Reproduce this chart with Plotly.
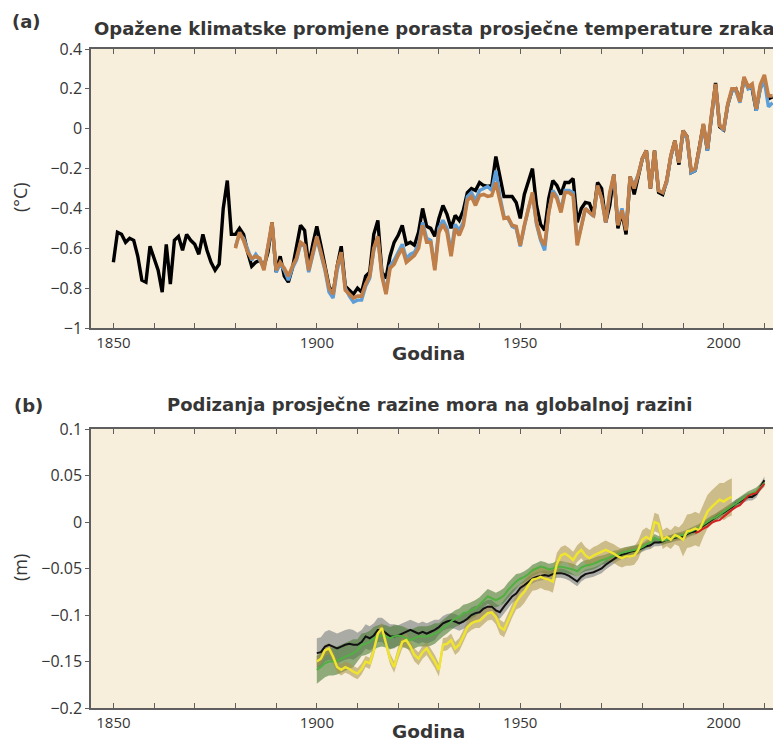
import numpy as np
import plotly.graph_objects as go

# ---------------- Panel (a): temperature anomalies (°C) ----------------
years_black_a = list(range(1850, 2013))
temp_black = [
    -0.67, -0.52, -0.53, -0.57, -0.55, -0.56, -0.64, -0.76, -0.77, -0.59,
    -0.65, -0.71, -0.82, -0.58, -0.78, -0.56, -0.54, -0.61, -0.53, -0.56,
    -0.58, -0.63, -0.53, -0.61, -0.67, -0.71, -0.68, -0.40, -0.26, -0.53,
    -0.53, -0.50, -0.53, -0.62, -0.69, -0.67, -0.66, -0.69, -0.62, -0.47,
    -0.72, -0.64, -0.74, -0.77, -0.70, -0.60, -0.485, -0.51, -0.69, -0.58,
    -0.49, -0.585, -0.68, -0.79, -0.83, -0.69, -0.59, -0.79, -0.81, -0.83,
    -0.80, -0.82, -0.74, -0.72, -0.53, -0.46, -0.72, -0.75, -0.64, -0.57,
    -0.535, -0.485, -0.58, -0.57, -0.585, -0.52, -0.40, -0.49, -0.50, -0.54,
    -0.45, -0.385, -0.43, -0.50, -0.435, -0.46, -0.41, -0.32, -0.30, -0.31,
    -0.27, -0.285, -0.29, -0.285, -0.14, -0.24, -0.34, -0.34, -0.34, -0.37,
    -0.45, -0.33, -0.26, -0.20, -0.385, -0.48, -0.51, -0.35, -0.26, -0.285,
    -0.33, -0.27, -0.27, -0.25, -0.47, -0.40, -0.37, -0.375, -0.43, -0.27,
    -0.30, -0.47, -0.385, -0.23, -0.50, -0.42, -0.53, -0.24, -0.33, -0.23,
    -0.15, -0.11, -0.30, -0.11, -0.32, -0.33, -0.26, -0.14, -0.06, -0.18,
    -0.01, -0.04, -0.22, -0.21, -0.10, 0.02, -0.11, 0.07, 0.23, 0.01,
    -0.005, 0.12, 0.19, 0.20, 0.14, 0.25, 0.21, 0.20, 0.09, 0.21,
    0.25, 0.15, 0.16,
]

years_color_a = list(range(1880, 2013))
temp_blue = [
    -0.59, -0.53, -0.55, -0.61, -0.66, -0.63, -0.66, -0.70, -0.60, -0.48,
    -0.72, -0.68, -0.71, -0.76, -0.70, -0.66, -0.58, -0.59, -0.72, -0.63,
    -0.55, -0.63, -0.71, -0.82, -0.85, -0.71, -0.63, -0.80, -0.84, -0.87,
    -0.86, -0.86, -0.79, -0.75, -0.61, -0.55, -0.73, -0.82, -0.69, -0.66,
    -0.62, -0.58, -0.65, -0.63, -0.62, -0.58, -0.47, -0.55, -0.56, -0.70,
    -0.50, -0.46, -0.50, -0.62, -0.48, -0.51, -0.47, -0.34, -0.32, -0.36,
    -0.31, -0.30, -0.29, -0.31, -0.21, -0.34, -0.44, -0.45, -0.49, -0.50,
    -0.59, -0.49, -0.40, -0.33, -0.48, -0.56, -0.61, -0.42, -0.31, -0.34,
    -0.41, -0.31, -0.31, -0.32, -0.57, -0.49, -0.40, -0.42, -0.44, -0.29,
    -0.35, -0.47, -0.33, -0.23, -0.48, -0.40, -0.50, -0.25, -0.28, -0.23,
    -0.15, -0.12, -0.29, -0.12, -0.31, -0.32, -0.27, -0.14, -0.07, -0.17,
    -0.02, -0.05, -0.22, -0.21, -0.11, 0.02, -0.11, 0.06, 0.21, 0.02,
    -0.01, 0.12, 0.19, 0.19, 0.13, 0.25, 0.20, 0.21, 0.09, 0.20,
    0.24, 0.11, 0.13,
]
temp_orange = [
    -0.60, -0.52, -0.56, -0.62, -0.65, -0.64, -0.65, -0.71, -0.59, -0.47,
    -0.71, -0.67, -0.70, -0.74, -0.69, -0.65, -0.57, -0.585, -0.71, -0.62,
    -0.54, -0.62, -0.70, -0.80, -0.83, -0.69, -0.62, -0.81, -0.83, -0.85,
    -0.84, -0.84, -0.78, -0.74, -0.60, -0.54, -0.74, -0.83, -0.70, -0.68,
    -0.635, -0.60, -0.67, -0.65, -0.635, -0.60, -0.485, -0.57, -0.57, -0.71,
    -0.52, -0.48, -0.52, -0.64, -0.50, -0.535, -0.485, -0.36, -0.34, -0.385,
    -0.335, -0.33, -0.34, -0.335, -0.27, -0.36, -0.45, -0.445, -0.485, -0.49,
    -0.585, -0.485, -0.40, -0.32, -0.47, -0.55, -0.585, -0.42, -0.32, -0.35,
    -0.42, -0.32, -0.32, -0.335, -0.585, -0.50, -0.40, -0.42, -0.435, -0.285,
    -0.35, -0.47, -0.32, -0.23, -0.485, -0.41, -0.51, -0.24, -0.30, -0.23,
    -0.15, -0.11, -0.30, -0.11, -0.31, -0.32, -0.26, -0.135, -0.06, -0.17,
    -0.01, -0.04, -0.21, -0.20, -0.10, 0.025, -0.10, 0.07, 0.225, 0.015,
    0.0, 0.125, 0.20, 0.20, 0.135, 0.26, 0.21, 0.225, 0.10, 0.22,
    0.27, 0.165, 0.165,
]

# ---------------- Panel (b): global mean sea level (m) ----------------
years_b = list(range(1900, 2011))
sea_black = [
    -0.141, -0.140, -0.134, -0.132, -0.134, -0.136, -0.134, -0.132, -0.131, -0.132,
    -0.132, -0.129, -0.123, -0.125, -0.122, -0.116, -0.116, -0.120, -0.123, -0.123,
    -0.122, -0.120, -0.118, -0.116, -0.118, -0.120, -0.118, -0.120, -0.118, -0.116,
    -0.113, -0.109, -0.107, -0.106, -0.107, -0.109, -0.107, -0.104, -0.100, -0.098,
    -0.097, -0.093, -0.091, -0.091, -0.095, -0.097, -0.091, -0.086, -0.080, -0.077,
    -0.071, -0.068, -0.064, -0.061, -0.059, -0.058, -0.057, -0.058, -0.056, -0.055,
    -0.055, -0.056, -0.058, -0.061, -0.064, -0.059, -0.056, -0.055, -0.054, -0.052,
    -0.050, -0.046, -0.043, -0.040, -0.037, -0.035, -0.034, -0.032, -0.031, -0.030,
    -0.028, -0.026, -0.025, -0.022, -0.022, -0.021, -0.019, -0.018, -0.017, -0.016,
    -0.016, -0.013, -0.011, -0.010, -0.007, -0.004, -0.001, 0.002, 0.005, 0.008,
    0.010, 0.013, 0.016, 0.020, 0.022, 0.025, 0.027, 0.027, 0.030, 0.037,
    0.045,
]
sea_green = [
    -0.159, -0.156, -0.152, -0.150, -0.150, -0.149, -0.147, -0.145, -0.143, -0.141,
    -0.138, -0.132, -0.131, -0.129, -0.125, -0.123, -0.122, -0.123, -0.125, -0.123,
    -0.122, -0.123, -0.125, -0.127, -0.125, -0.123, -0.123, -0.123, -0.122, -0.120,
    -0.118, -0.114, -0.111, -0.107, -0.104, -0.102, -0.098, -0.097, -0.095, -0.093,
    -0.089, -0.084, -0.080, -0.082, -0.084, -0.082, -0.079, -0.073, -0.068, -0.064,
    -0.061, -0.059, -0.056, -0.052, -0.050, -0.048, -0.049, -0.051, -0.050, -0.048,
    -0.048, -0.049, -0.050, -0.051, -0.053, -0.049, -0.047, -0.046, -0.045, -0.043,
    -0.041, -0.040, -0.038, -0.036, -0.035, -0.033, -0.032, -0.031, -0.030, -0.029,
    -0.027, -0.024, -0.022, -0.017, -0.019, -0.020, -0.019, -0.018, -0.016, -0.015,
    -0.014, -0.012, -0.010, -0.008, -0.006, -0.003, 0.000, 0.003, 0.005, 0.008,
    0.011, 0.014, 0.017, 0.020, 0.023, 0.026, 0.029, 0.031, 0.033, 0.037,
    0.042,
]
years_yellow = list(range(1900, 2003))
sea_yellow = [
    -0.150, -0.147, -0.138, -0.136, -0.145, -0.156, -0.159, -0.156, -0.158, -0.161,
    -0.163, -0.158, -0.150, -0.152, -0.138, -0.120, -0.114, -0.131, -0.147, -0.156,
    -0.141, -0.129, -0.127, -0.134, -0.143, -0.147, -0.140, -0.136, -0.143, -0.150,
    -0.159, -0.132, -0.131, -0.127, -0.136, -0.132, -0.123, -0.113, -0.109, -0.107,
    -0.106, -0.102, -0.098, -0.097, -0.102, -0.113, -0.116, -0.106, -0.095, -0.086,
    -0.080, -0.075, -0.068, -0.062, -0.061, -0.059, -0.061, -0.062, -0.064, -0.045,
    -0.036, -0.034, -0.037, -0.041, -0.034, -0.030, -0.036, -0.039, -0.036, -0.034,
    -0.032, -0.030, -0.032, -0.034, -0.037, -0.039, -0.037, -0.037, -0.036, -0.030,
    -0.019, -0.016, -0.019, 0.000, -0.002, -0.019, -0.016, -0.019, -0.014, -0.016,
    -0.019, -0.010, -0.009, -0.007, -0.009, 0.002, 0.011, 0.016, 0.020, 0.024,
    0.022, 0.025, 0.027,
]
years_red = list(range(1993, 2011))
sea_red = [
    -0.012, -0.010, -0.007, -0.005, -0.001, 0.001, 0.002, 0.006, 0.010, 0.013,
    0.016, 0.018, 0.023, 0.028, 0.030, 0.031, 0.036, 0.041,
]
# uncertainty half-widths (m), one value per decade starting 1900
black_hw_decade = [0.016, 0.013, 0.011, 0.008, 0.007, 0.005, 0.005, 0.005, 0.004, 0.004, 0.004, 0.004]
green_hw_decade = [0.015, 0.012, 0.011, 0.009, 0.008, 0.006, 0.006, 0.005, 0.004, 0.004, 0.004, 0.004]
yellow_hw_decade = [0.006, 0.006, 0.007, 0.007, 0.008, 0.012, 0.009, 0.010, 0.010, 0.018, 0.020]

# tick labels
x_tick_vals = list(range(1850, 2011, 10))
x_tick_text = [str(v) if v % 50 == 0 else "" for v in x_tick_vals]
ya_tick_vals = [0.4, 0.2, 0, -0.2, -0.4, -0.6, -0.8, -1]
ya_tick_text = ["0.4", "0.2", "0", "\u22120.2", "\u22120.4", "\u22120.6", "\u22120.8", "\u22121"]
yb_tick_vals = [0.1, 0.05, 0, -0.05, -0.1, -0.15, -0.2]
yb_tick_text = ["0.1", "0.05", "0", "\u22120.05", "\u22120.1", "\u22120.15", "\u22120.2"]

# ---------------- figure ----------------
WIN_W, WIN_H = 781, 746
OFF = 8                      # page body margin of the browser
W, H = WIN_W - OFF, WIN_H - OFF
BG = "#F7EFDC"
AX = "#5f5f5f"
TXT = "#363636"
FONT = "Open Sans"
TFONT = "DejaVu Sans"

def px_x(p):
    return (p - OFF) / W

def px_y(p):
    return (WIN_H - p) / H

fig = go.Figure()

# panel (a) lines
fig.add_trace(go.Scatter(x=years_black_a, y=temp_black, mode="lines",
                         line=dict(color="#000000", width=3.4), xaxis="x", yaxis="y"))
fig.add_trace(go.Scatter(x=years_color_a, y=temp_blue, mode="lines",
                         line=dict(color="#5E9ED8", width=3.4), xaxis="x", yaxis="y"))
fig.add_trace(go.Scatter(x=years_color_a, y=temp_orange, mode="lines",
                         line=dict(color="#C07E48", width=3.6), xaxis="x", yaxis="y"))

# panel (b) bands
def band(years, vals, hw_dec, color):
    hw = [hw_dec[(y - 1900) // 10] for y in years]
    up = [v + h for v, h in zip(vals, hw)]
    lo = [v - h for v, h in zip(vals, hw)]
    return go.Scatter(x=list(years) + list(years)[::-1], y=up + lo[::-1],
                      fill="toself", fillcolor=color, mode="lines",
                      line=dict(width=0, color=color), xaxis="x2", yaxis="y2",
                      hoverinfo="skip")

fig.add_trace(band(years_b, sea_black, black_hw_decade, "rgba(120,125,130,0.60)"))
fig.add_trace(band(years_b, sea_green, green_hw_decade, "rgba(75,125,55,0.60)"))
fig.add_trace(band(years_yellow, sea_yellow, yellow_hw_decade, "rgba(170,145,70,0.55)"))

fig.add_trace(go.Scatter(x=years_b, y=sea_black, mode="lines",
                         line=dict(color="#111111", width=2), xaxis="x2", yaxis="y2"))
fig.add_trace(go.Scatter(x=years_b, y=sea_green, mode="lines",
                         line=dict(color="#52B043", width=2), xaxis="x2", yaxis="y2"))
fig.add_trace(go.Scatter(x=years_yellow, y=sea_yellow, mode="lines",
                         line=dict(color="#F0E52E", width=2.4), xaxis="x2", yaxis="y2"))
fig.add_trace(go.Scatter(x=years_red, y=sea_red, mode="lines",
                         line=dict(color="#D42222", width=2), xaxis="x2", yaxis="y2"))

xdom = [px_x(91), px_x(777)]
xrange_ = [1844.5, 2013.1]
xtickfont = dict(family=FONT, size=15, color=TXT)
ytickfont = dict(family=FONT, size=16, color=TXT)

def xaxis_cfg(anchor):
    return dict(domain=xdom, range=xrange_, anchor=anchor, tickmode="array",
                tickvals=x_tick_vals, ticktext=x_tick_text, ticks="inside",
                ticklen=5, tickwidth=1.2, tickcolor=AX, showline=True, linecolor=AX,
                linewidth=1.5, mirror="ticks", showgrid=False, zeroline=False,
                tickfont=xtickfont, automargin=False)

def yaxis_cfg(dom, rng, vals, text, anchor):
    return dict(domain=dom, range=rng, anchor=anchor, tickmode="array",
                tickvals=vals, ticktext=text, ticks="outside", ticklen=4,
                tickwidth=1.2, tickcolor=AX, showline=True, linecolor=AX,
                linewidth=1.5, mirror=True, showgrid=False, zeroline=False,
                tickfont=ytickfont, automargin=False)

def yaxis_right(over, dom, rng, vals):
    return dict(overlaying=over, side="right", anchor="free", position=xdom[1],
                range=rng, tickmode="array", tickvals=vals, ticks="inside",
                ticklen=5, tickwidth=1.2, tickcolor=AX, showticklabels=False,
                showline=False, showgrid=False, zeroline=False, automargin=False)

ydom_a = [px_y(328), px_y(49)]
ydom_b = [px_y(708), px_y(429)]

fig.update_layout(
    width=W, height=H, margin=dict(l=0, r=0, t=0, b=0, autoexpand=False),
    paper_bgcolor="white", plot_bgcolor=BG, showlegend=False,
    xaxis=xaxis_cfg("y"),
    yaxis=yaxis_cfg(ydom_a, [-1, 0.4], ya_tick_vals, ya_tick_text, "x"),
    xaxis2=xaxis_cfg("y2"),
    yaxis2=yaxis_cfg(ydom_b, [-0.2, 0.1], yb_tick_vals, yb_tick_text, "x2"),
    yaxis3=yaxis_right("y", ydom_a, [-1, 0.4], ya_tick_vals),
    yaxis4=yaxis_right("y2", ydom_b, [-0.2, 0.1], yb_tick_vals),
)

title_font = dict(family=TFONT, size=18, color=TXT, weight="bold")
ann = [
    dict(text="(a)", x=px_x(10), y=px_y(22), xanchor="left", yanchor="middle",
         font=dict(family=TFONT, size=18, color=TXT, weight="bold")),
    dict(text="Opažene klimatske promjene porasta prosječne temperature zraka",
         x=px_x(434.5), y=px_y(28), xanchor="center", yanchor="middle", font=title_font),
    dict(text="(b)", x=px_x(12), y=px_y(405), xanchor="left", yanchor="middle",
         font=dict(family=TFONT, size=18, color=TXT, weight="bold")),
    dict(text="Podizanja prosječne razine mora na globalnoj razini",
         x=px_x(430), y=px_y(404), xanchor="center", yanchor="middle", font=title_font),
    dict(text="Godina", x=px_x(428), y=px_y(353), xanchor="center", yanchor="middle",
         font=dict(family=TFONT, size=18.5, color=TXT, weight="bold")),
    dict(text="Godina", x=px_x(428), y=px_y(731), xanchor="center", yanchor="middle",
         font=dict(family=TFONT, size=18.5, color=TXT, weight="bold")),
    dict(text="(°C)", x=px_x(20), y=px_y(197), xanchor="center", yanchor="middle",
         textangle=-90, font=dict(family=FONT, size=18, color=TXT)),
    dict(text="(m)", x=px_x(20), y=px_y(568), xanchor="center", yanchor="middle",
         textangle=-90, font=dict(family=FONT, size=18, color=TXT)),
]
for a in ann:
    a.update(xref="paper", yref="paper", showarrow=False)
fig.update_layout(annotations=ann)

fig.write_html("out.html")
